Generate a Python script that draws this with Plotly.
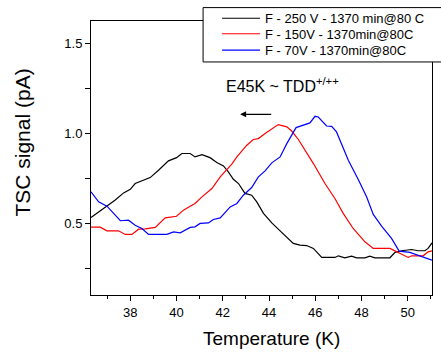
import plotly.graph_objects as go

t_black = [36.3, 36.85, 37.35, 37.71, 38.0, 38.21, 38.86, 39.22, 39.65, 40.0, 40.23, 40.59, 40.8, 41.1, 41.45, 41.74, 42.03, 42.24, 42.46, 42.68, 42.96, 43.25, 43.47, 43.76, 44.12, 44.48, 44.77, 45.05, 45.34, 45.63, 45.92, 46.28, 46.85, 47.0, 47.28, 47.57, 47.79, 48.15, 48.36, 48.58, 49.23, 49.45, 49.74, 50.17, 50.45, 50.74, 50.88, 51.05]
v_black = [0.533, 0.583, 0.63, 0.67, 0.69, 0.722, 0.755, 0.796, 0.848, 0.866, 0.889, 0.889, 0.87, 0.883, 0.866, 0.839, 0.82, 0.787, 0.746, 0.722, 0.667, 0.657, 0.62, 0.556, 0.503, 0.459, 0.422, 0.389, 0.379, 0.377, 0.361, 0.311, 0.311, 0.32, 0.309, 0.318, 0.309, 0.309, 0.318, 0.309, 0.309, 0.339, 0.348, 0.355, 0.348, 0.348, 0.361, 0.392]

t_red = [36.3, 36.7, 36.99, 37.49, 37.78, 38.07, 38.36, 38.65, 39.08, 39.51, 40.0, 40.3, 40.59, 40.8, 41.1, 41.53, 41.89, 42.39, 42.61, 43.04, 43.32, 43.54, 43.83, 44.12, 44.4, 44.77, 44.98, 45.27, 45.48, 45.92, 46.42, 46.85, 47.21, 47.64, 48.15, 48.51, 49.23, 49.66, 50.02, 50.17, 50.67, 50.88, 51.05]
v_red = [0.479, 0.479, 0.459, 0.459, 0.439, 0.439, 0.468, 0.47, 0.478, 0.531, 0.54, 0.574, 0.596, 0.611, 0.648, 0.694, 0.759, 0.83, 0.87, 0.935, 0.967, 0.972, 1.0, 1.028, 1.05, 1.037, 1.014, 0.967, 0.926, 0.833, 0.722, 0.639, 0.556, 0.472, 0.398, 0.361, 0.361, 0.333, 0.311, 0.32, 0.32, 0.342, 0.348]

t_blue = [36.3, 36.63, 36.99, 37.28, 37.57, 37.92, 38.21, 38.5, 38.79, 39.58, 39.87, 40.16, 40.59, 40.8, 41.02, 41.38, 41.59, 41.89, 42.32, 42.61, 42.89, 43.25, 43.54, 43.83, 44.12, 44.48, 44.77, 45.17, 45.48, 45.77, 45.99, 46.13, 46.49, 46.71, 46.92, 47.43, 47.86, 48.22, 48.51, 48.87, 49.3, 49.63, 50.09, 50.52, 50.88, 51.05]
v_blue = [0.676, 0.62, 0.596, 0.556, 0.515, 0.518, 0.49, 0.472, 0.439, 0.439, 0.453, 0.448, 0.478, 0.481, 0.5, 0.503, 0.522, 0.531, 0.592, 0.611, 0.657, 0.7, 0.759, 0.792, 0.837, 0.87, 0.944, 1.033, 1.046, 1.059, 1.096, 1.092, 1.042, 1.04, 1.009, 0.852, 0.744, 0.648, 0.55, 0.485, 0.417, 0.346, 0.339, 0.318, 0.3, 0.296]

names = ["F - 250 V - 1370 min@80 C", "F - 150V - 1370min@80C", "F - 70V - 1370min@80C"]
colors = ["black", "red", "blue"]

x_ticks = [38, 40, 42, 44, 46, 48, 50]
y_ticks = [0.5, 1.0, 1.5]

FONT = "Liberation Sans, Arial, sans-serif"

legend_ids = ["legend", "legend2", "legend3"]
legend_y = [1.0098, 0.9533, 0.8932]

fig = go.Figure()
for t, v, n, c, lg in zip([t_black, t_red, t_blue], [v_black, v_red, v_blue], names, colors, legend_ids):
    fig.add_trace(go.Scatter(x=t, y=v, mode="lines", name=n, legend=lg,
                             line=dict(color=c, width=1.2)))

legend_common = dict(x=0.3697, xanchor="left", yanchor="middle",
                     bgcolor="rgba(0,0,0,0)", borderwidth=0,
                     font=dict(size=13, family=FONT), itemwidth=38)

fig.update_layout(
    width=441, height=354,
    margin=dict(l=91, r=9, t=21, b=59, autoexpand=False),
    plot_bgcolor="white", paper_bgcolor="white",
    font=dict(family=FONT, color="black", size=13),
    showlegend=True,
    legend=dict(y=legend_y[0], **legend_common),
    legend2=dict(y=legend_y[1], **legend_common),
    legend3=dict(y=legend_y[2], **legend_common),
    xaxis=dict(range=[36.3, 51.05], tickvals=x_ticks, ticktext=[str(v) for v in x_ticks],
               ticks="outside", ticklen=5, tickcolor="black", showgrid=False, zeroline=False,
               showline=True, linecolor="black", linewidth=1, mirror=True,
               minor=dict(tickvals=[37, 39, 41, 43, 45, 47, 49, 51], ticks="outside", ticklen=3, tickcolor="black"),
               tickfont=dict(size=13)),
    yaxis=dict(range=[0.102, 1.626], tickvals=y_ticks, ticktext=["0.5", "1.0", "1.5"],
               ticks="outside", ticklen=5, tickcolor="black", showgrid=False, zeroline=False,
               showline=True, linecolor="black", linewidth=1, mirror=True,
               minor=dict(tickvals=[0.25, 0.75, 1.25], ticks="outside", ticklen=5, tickcolor="black"),
               tickfont=dict(size=13)),
)

# legend frame (extends past the right edge as in the reference)
fig.add_shape(type="rect", xref="paper", yref="paper", x0=0.3287, x1=1.04, y0=0.8505, y1=1.0489,
              line=dict(color="black", width=1), fillcolor="white", layer="above")

# axis titles
fig.add_annotation(x=0.529, y=-0.160, xref="paper", yref="paper", xanchor="center", yanchor="middle",
                   text="Temperature (K)", showarrow=False, font=dict(size=19, family=FONT))
fig.add_annotation(x=-0.201, y=0.558, xref="paper", yref="paper", xanchor="center", yanchor="middle",
                   text="TSC signal (pA)", textangle=-90, showarrow=False, font=dict(size=21, family=FONT))

fig.add_annotation(x=42.06, y=1.27, xref="x", yref="y", xanchor="left", yanchor="middle",
                   text="E45K ~ TDD<sup>+/++</sup>", showarrow=False,
                   font=dict(size=16, family=FONT))
fig.add_annotation(x=42.75, y=1.107, ax=44.16, ay=1.107, xref="x", yref="y",
                   axref="x", ayref="y", text="", showarrow=True,
                   arrowhead=2, arrowsize=1, arrowwidth=1.2, arrowcolor="black")

fig.write_html("out.html")
